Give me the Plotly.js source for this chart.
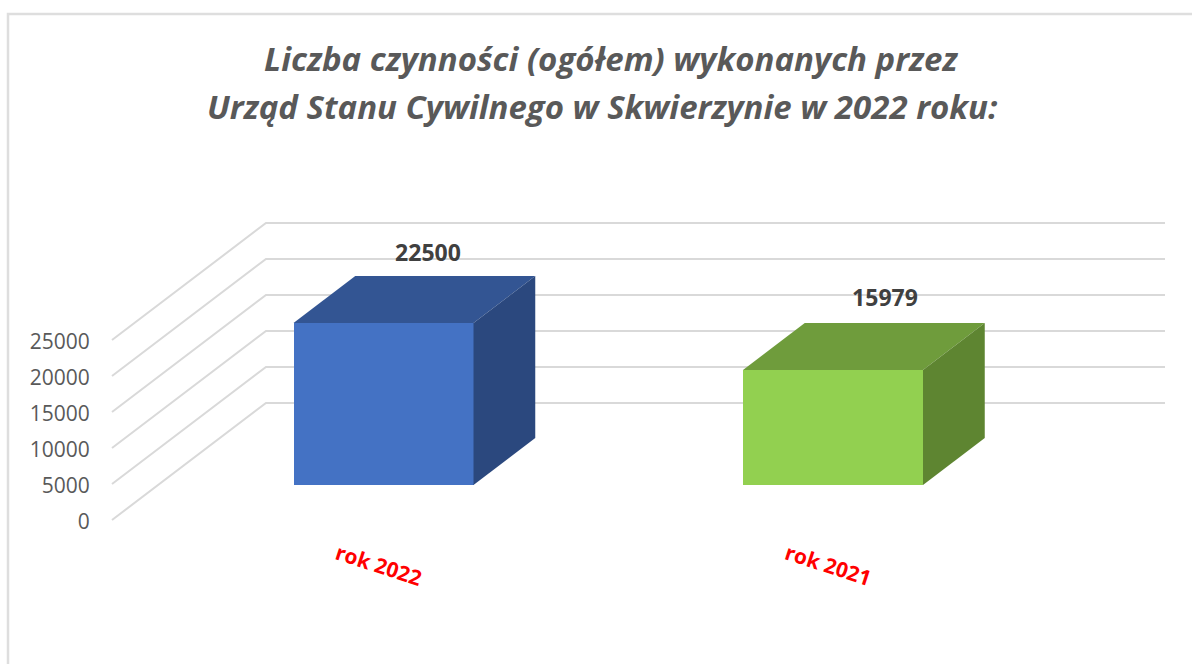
<!DOCTYPE html>
<html>
<head>
<meta charset="utf-8">
<script src="https://cdn.plot.ly/plotly-3.0.1.min.js"></script>
<style>html,body{margin:0;padding:0;background:#fff}#chart{width:1192px;height:664px}</style>
</head>
<body>
<div id="chart"></div>
<script>
// Data
const categories = ["rok 2022", "rok 2021"];
const values = [22500, 15979];
const yTicks = [0, 5000, 10000, 15000, 20000, 25000];
const frontColors = ["#4472C4", "#92D050"];
const topColors = ["#335593", "#6F9C3C"];
const sideColors = ["#2B487E", "#5E8531"];

// Pseudo-3D projection, in axis units
const W = 1192, H = 664;
const m = {l: 100, r: 12, t: 200, b: 132};
const xPerPx = 1 / 449.5, vPerPx = 5000 / 36;
const x0px = 383.5, v0px = 520;
const depthX = 154 * xPerPx, depthV = 117 * vPerPx;
const barWidth = 180 * xPerPx;
const barFront = 0.299, barBack = 0.70;
const gridStart = -0.604, gridEnd = 1.7386;
const labelShift = [44.5 * xPerPx, 52 * xPerPx];
const labelLift = [20.5, 23];
const xRange = [(m.l - x0px) * xPerPx, (W - m.r - x0px) * xPerPx];
const yRange = [(v0px - (H - m.b)) * vPerPx, (v0px - m.t) * vPerPx];

const traces = [];
// front faces
traces.push({
  type: "bar", x: categories.map((_, i) => i), y: values,
  base: values.map(() => barFront * depthV),
  width: barWidth,
  marker: {color: frontColors, line: {width: 0}},
  hoverinfo: "y", showlegend: false
});
// top and side faces
categories.forEach((c, i) => {
  const xl = i - barWidth / 2, xr = i + barWidth / 2;
  const dx = (barBack - barFront) * depthX, dv = (barBack - barFront) * depthV;
  const b = barFront * depthV, t = b + values[i];
  traces.push({
    type: "scatter", mode: "lines", fill: "toself", fillcolor: topColors[i],
    x: [xl, xl + dx, xr + dx, xr, xl], y: [t, t + dv, t + dv, t, t],
    line: {width: 0, color: topColors[i]}, hoverinfo: "skip", showlegend: false
  });
  traces.push({
    type: "scatter", mode: "lines", fill: "toself", fillcolor: sideColors[i],
    x: [xr, xr + dx, xr + dx, xr, xr], y: [b, b + dv, t + dv, t, b],
    line: {width: 0, color: sideColors[i]}, hoverinfo: "skip", showlegend: false
  });
});
// data labels
traces.push({
  type: "scatter", mode: "text",
  x: categories.map((_, i) => i + labelShift[i]),
  y: values.map((v, i) => barBack * depthV + v + labelLift[i] * vPerPx),
  text: values.map(String), textposition: "middle center",
  textfont: {family: "Open Sans", size: 23, color: "#404040", weight: 700},
  hoverinfo: "skip", showlegend: false
});

// Gridlines as below-layer shapes in axis units
const px = v => (v - m.l) / (W - m.l - m.r);
const py = v => (H - m.b - v) / (H - m.t - m.b);
const shapes = yTicks.map(v => ({
  type: "path", xref: "x", yref: "y", layer: "below",
  path: `M${gridStart},${v} L${gridStart + depthX},${v + depthV} L${gridEnd},${v + depthV}`,
  line: {color: "#D9D9D9", width: 2}
}));
// outer frame: left and top only
shapes.push({
  type: "path", xref: "paper", yref: "paper", layer: "below",
  path: `M${px(8)},${py(664)} L${px(8)},${py(14)} L${px(1192)},${py(14)}`,
  line: {color: "#DEDEDE", width: 2.5}
});

const layout = {
  width: W, height: H, margin: m, autosize: false,
  paper_bgcolor: "#fff", plot_bgcolor: "rgba(0,0,0,0)",
  showlegend: false, bargap: 0,
  title: {
    text: '<span style="font-size:33px"><b><i>\u00A0Liczba czynności (ogółem) wykonanych przez<br>Urząd Stanu Cywilnego w Skwierzynie w 2022 roku:\u00A0</i></b></span>',
    font: {family: "Open Sans", size: 37, color: "#595959"},
    x: 0.469, xref: "paper", xanchor: "center", y: 0.8925, yanchor: "middle"
  },
  xaxis: {
    range: xRange, showgrid: false, zeroline: false, showline: false,
    tickmode: "array", tickvals: categories.map((_, i) => i - 0.103), ticktext: categories,
    tickangle: 18, ticks: "outside", ticklen: 1, tickcolor: "rgba(0,0,0,0)",
    tickfont: {family: "Open Sans", size: 21, color: "#FF0000", weight: 700}
  },
  yaxis: {
    range: yRange, showgrid: false, zeroline: false, showline: false,
    tickmode: "array", tickvals: yTicks, ticktext: yTicks.map(String),
    ticks: "outside", ticklen: 5, tickcolor: "rgba(0,0,0,0)", ticklabelshift: 2,
    tickfont: {family: "Open Sans", size: 21, color: "#595959"}
  },
  shapes: shapes
};
Plotly.newPlot("chart", traces, layout, {displayModeBar: false, responsive: false});
</script>
</body>
</html>
